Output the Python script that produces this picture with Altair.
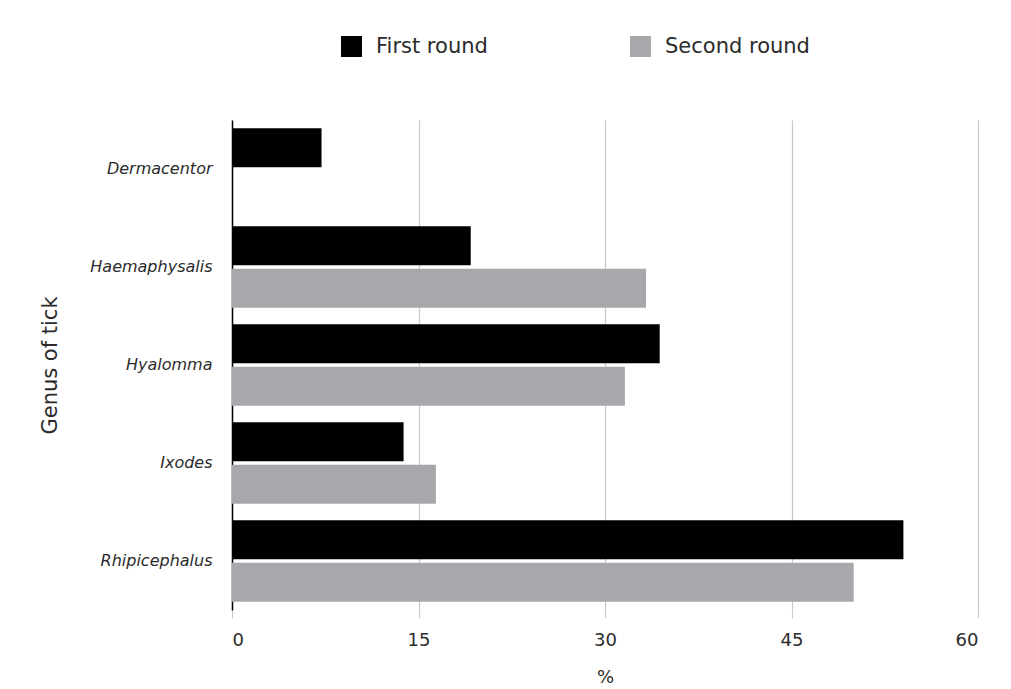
import altair as alt
import pandas as pd

genera = ["Dermacentor", "Haemaphysalis", "Hyalomma", "Ixodes", "Rhipicephalus"]
rounds = ["First round", "Second round"]
first_round = [7.2, 19.2, 34.4, 13.8, 54.0]
second_round = [None, 33.3, 31.6, 16.4, 50.0]
x_ticks = [0, 15, 30, 45, 60]

rows = []
for g, a, b in zip(genera, first_round, second_round):
    if a is not None:
        rows.append({"genus": g, "round": rounds[0], "value": a})
    if b is not None:
        rows.append({"genus": g, "round": rounds[1], "value": b})
df = pd.DataFrame(rows)

FONT = "DejaVu Sans"
TXT = "#2b2b2b"

chart = alt.Chart(df).mark_bar().encode(
    x=alt.X("value:Q", title="%",
            scale=alt.Scale(domain=[0, 60], nice=False),
            axis=alt.Axis(values=x_ticks, grid=True, gridColor="#c8c8c8", gridWidth=1.2,
                          domain=False, tickColor="#c8c8c8", tickSize=8,
                          labelFont=FONT, labelFontSize=18, labelFontWeight="normal",
                          labelColor=TXT, labelPadding=13,
                          titleFont=FONT, titleFontSize=18, titleFontWeight="normal",
                          titleColor=TXT, titleY=58, titleBaseline="top")),
    y=alt.Y("genus:N", sort=genera, title="Genus of tick",
            scale=alt.Scale(paddingInner=0.17, paddingOuter=0.085),
            axis=alt.Axis(ticks=False, domain=True, domainColor="#000", domainWidth=1.5,
                          labelFont=FONT, labelFontSize=16, labelFontStyle="italic",
                          labelFontWeight="normal", labelColor=TXT, labelPadding=20,
                          titleFont=FONT, titleFontSize=21, titleFontWeight="normal",
                          titleColor=TXT, titleX=-172)),
    yOffset=alt.YOffset("round:N", sort=rounds, scale=alt.Scale(paddingInner=0.08)),
    color=alt.Color("round:N", sort=rounds,
                    scale=alt.Scale(domain=rounds, range=["#000000", "#a7a8ab"]),
                    legend=alt.Legend(title=None, orient="none", direction="horizontal",
                                      legendX=109, legendY=-84,
                                      symbolType="square", symbolSize=441,
                                      symbolStrokeWidth=0, labelFont=FONT,
                                      labelFontSize=21, labelFontWeight="normal",
                                      labelColor=TXT,
                                      labelOffset=14, columnPadding=142)),
).properties(
    width=746, height=490,
    autosize=alt.AutoSizeParams(type="none"),
    padding={"left": 224, "top": 112, "right": 25, "bottom": 78},
).configure_view(stroke=None)

chart.save("out.html", embed_options={"renderer": "svg", "actions": False})
